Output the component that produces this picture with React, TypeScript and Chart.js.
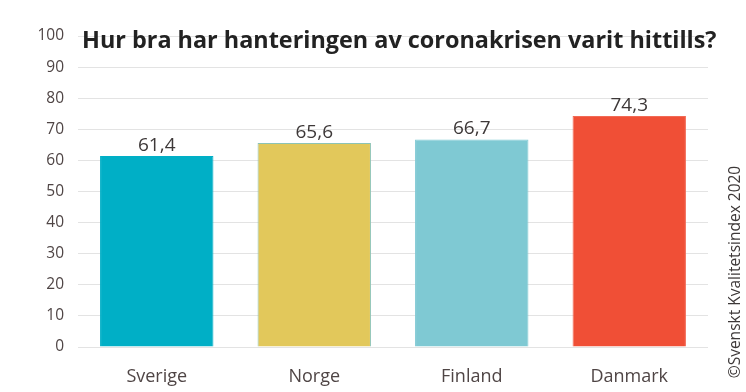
import React, { useEffect, useRef } from "react";
import { Chart, registerables } from "chart.js";

Chart.register(...registerables);

const categories = ["Sverige", "Norge", "Finland", "Danmark"];
const values = [61.4, 65.6, 66.7, 74.3];
const barColors = ["#00AFC6", "#E2C85B", "#7FC9D3", "#F04F36"];
const borderColors = ["#00AFC6", "#8CC3B4", "#7FC9D3", "#F26A55"];
const titleText = "Hur bra har hanteringen av coronakrisen varit hittills?";
const creditText = "©Svenskt Kvalitetsindex 2020";
const FONT = "'Open Sans', 'DejaVu Sans', sans-serif";
const TEXT = "#4f4545";

const overlay = {
  id: "overlay",
  afterDatasetsDraw(chart: any) {
    const ctx = chart.ctx;
    const meta = chart.getDatasetMeta(0);
    ctx.save();
    ctx.fillStyle = "#3d3838";
    ctx.font = `19px ${FONT}`;
    ctx.textAlign = "center";
    ctx.textBaseline = "bottom";
    meta.data.forEach((el: any, i: number) => {
      ctx.fillText(values[i].toFixed(1).replace(".", ","), el.x, el.y - 1);
    });
    ctx.restore();
  },
  afterDraw(chart: any) {
    const ctx = chart.ctx;
    ctx.save();
    ctx.fillStyle = "#222222";
    ctx.font = `bold 23.4px ${FONT}`;
    ctx.textAlign = "left";
    ctx.textBaseline = "middle";
    ctx.fillText(titleText, 82, 41);
    ctx.restore();

    ctx.save();
    ctx.translate(736, 272);
    ctx.rotate(-Math.PI / 2);
    ctx.fillStyle = "#3d3838";
    ctx.font = `15.5px ${FONT}`;
    ctx.textAlign = "center";
    ctx.textBaseline = "middle";
    ctx.fillText(creditText, 0, 0);
    ctx.restore();
  },
};

export default function App() {
  const ref = useRef<HTMLCanvasElement>(null);
  useEffect(() => {
    const chart = new Chart(ref.current!, {
      type: "bar",
      data: {
        labels: categories,
        datasets: [
          {
            data: values,
            backgroundColor: barColors,
            borderColor: borderColors,
            borderWidth: 1,
            categoryPercentage: 0.72,
            barPercentage: 1,
          },
        ],
      },
      options: {
        animation: false,
        responsive: false,
        maintainAspectRatio: false,
        layout: { padding: { top: 36, right: 38, left: 0, bottom: 0 } },
        plugins: {
          legend: { display: false },
          tooltip: { enabled: false },
          title: { display: false },
        },
        scales: {
          x: {
            grid: { display: false },
            border: { display: false },
            ticks: { color: TEXT, font: { family: FONT, size: 18 }, padding: 11 },
            afterFit: (s: any) => {
              s.height = 45;
            },
          },
          y: {
            min: 0,
            max: 100,
            ticks: { stepSize: 10, color: TEXT, font: { family: FONT, size: 15.5 }, padding: 14 },
            grid: { color: "#e3e3e3", drawTicks: false },
            border: { display: false },
            afterFit: (s: any) => {
              s.width = 78;
            },
          },
        },
      },
      plugins: [overlay],
    });
    return () => chart.destroy();
  }, []);
  return (
    <div style={{ position: "fixed", left: 0, top: 0, width: 746, height: 392, background: "#fff" }}>
      <canvas ref={ref} width={746} height={392} />
    </div>
  );
}
